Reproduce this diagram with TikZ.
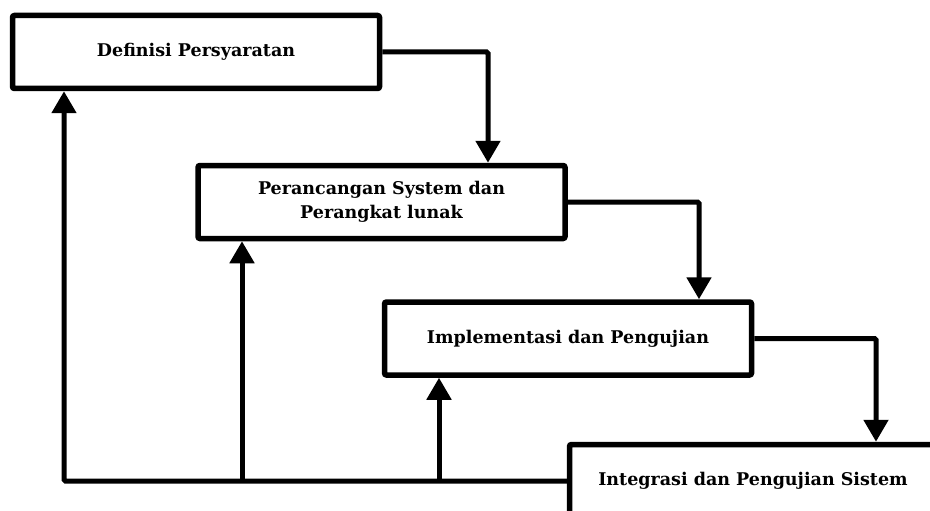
\documentclass[tikz,border=0pt]{standalone}
\usepackage{fontspec}
\setmainfont{DejaVu Serif}
\usetikzlibrary{arrows.meta}
\begin{document}
\begin{tikzpicture}[x=1pt,y=-1pt,
  stage/.style={draw, line width=5.5pt, rounded corners=2pt, fill=white,
    minimum width=367pt, minimum height=73pt, inner sep=0pt,
    font=\bfseries\fontsize{17.5}{24}\selectfont, align=center},
  flow/.style={line width=5pt, rounded corners=1.5pt,
    -{Triangle[length=22pt,width=24pt]}}]
\useasboundingbox (0,0) rectangle (930,511);

% the four stages of the waterfall
\node[stage] (b1) at (196,52)    {Definisi Persyaratan};
\node[stage] (b2) at (381.5,202) {Perancangan System dan\\Perangkat lunak};
\node[stage] (b3) at (568,338.5) {Implementasi dan Pengujian};
\node[stage] (b4) at (753,481)   {Integrasi dan Pengujian Sistem};

% x positions of the vertical runs
\coordinate (k1) at (488,0);
\coordinate (k2) at (699,0);
\coordinate (k3) at (876,0);
\coordinate (f1) at (64,0);
\coordinate (f2) at (242,0);
\coordinate (f3) at (439,0);

% forward flow
\draw[flow] (b1.east) -| (k1 |- b2.north);
\draw[flow] (b2.east) -| (k2 |- b3.north);
\draw[flow] (b3.east) -| (k3 |- b4.north);

% feedback to the earlier stages
\draw[flow] (b4.west) -| (f1 |- b1.south);
\draw[flow] (f2 |- b4.west) -- (f2 |- b2.south);
\draw[flow] (f3 |- b4.west) -- (f3 |- b3.south);
\end{tikzpicture}
\end{document}
